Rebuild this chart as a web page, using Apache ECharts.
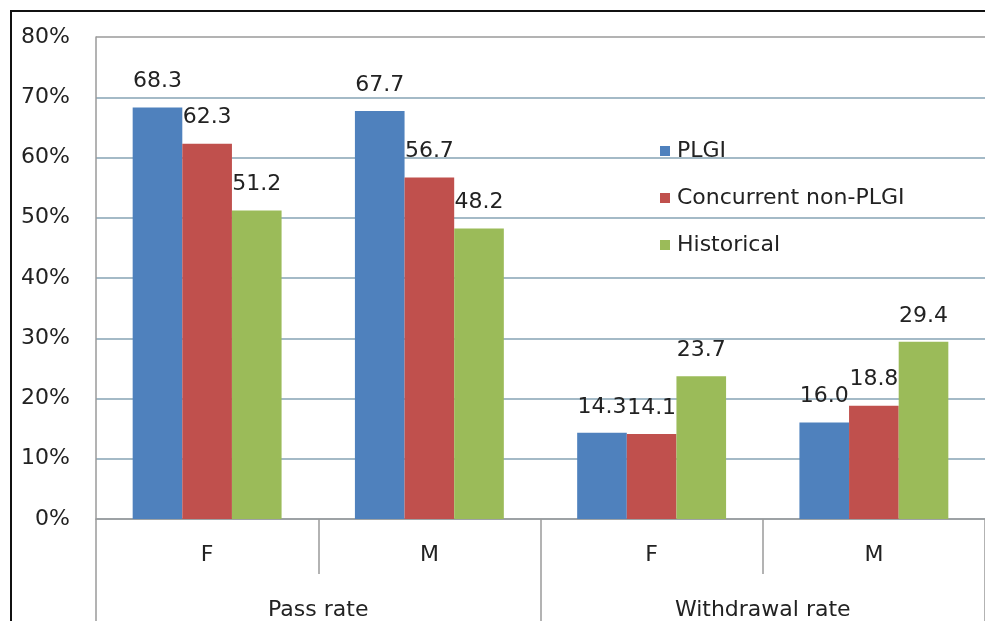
<!DOCTYPE html>
<html>
<head>
<meta charset="utf-8">
<script src="https://cdn.jsdelivr.net/npm/echarts@6/dist/echarts.min.js"></script>
<style>
html,body{margin:0;padding:0;background:#fff;overflow:hidden;}
#wrap{position:relative;width:985px;height:621px;overflow:hidden;}
#chart{position:absolute;left:0;top:0;width:985px;height:621px;}
#ftop{position:absolute;left:10px;top:10px;width:975px;height:0;border-top:2px solid #111;pointer-events:none;}
#fleft{position:absolute;left:10px;top:10px;width:0;height:611px;border-left:2px solid #111;pointer-events:none;}
</style>
</head>
<body>
<div id="wrap"><div id="chart"></div><div id="ftop"></div><div id="fleft"></div></div>
<script>
const categories = ['F', 'M', 'F', 'M'];
const groups = ['Pass rate', 'Withdrawal rate'];
const seriesNames = ['PLGI', 'Concurrent non-PLGI', 'Historical'];
const plgi = [68.3, 67.7, 14.3, 16.0];
const concurrent = [62.3, 56.7, 14.1, 18.8];
const historical = [51.2, 48.2, 23.7, 29.4];
const yTicks = [0, 10, 20, 30, 40, 50, 60, 70, 80];

const colors = ['#4F81BD', '#C0504D', '#9BBB59'];
const FONT = 'DejaVu Sans';
const TXT = '#222';
const GRID_BLUE = '#86a3b5';
const AXIS_GRAY = '#9a9a9a';

const chart = echarts.init(document.getElementById('chart'));
function bar(name, data, color) {
  return {
    name: name,
    type: 'bar',
    data: data,
    xAxisIndex: 0,
    barGap: '0%',
    barCategoryGap: '33%',
    itemStyle: { color: color },
    label: {
      show: true,
      position: 'top',
      distance: 15,
      fontFamily: FONT,
      fontSize: 22,
      color: TXT,
      formatter: p => Number(p.value).toFixed(1)
    }
  };
}
const splitColors = yTicks.map((t, i) => i === yTicks.length - 1 ? AXIS_GRAY : GRID_BLUE);
chart.setOption({
  animation: false,
  color: colors,
  grid: { left: 96, right: -5, top: 37, bottom: 102, containLabel: false },
  legend: {
    orient: 'vertical',
    left: 655,
    top: 135,
    itemWidth: 10,
    itemHeight: 10,
    itemGap: 25,
    icon: 'rect',
    data: seriesNames,
    textStyle: { fontFamily: FONT, fontSize: 22, color: TXT, lineHeight: 22, padding: [0, 0, 0, 2] }
  },
  xAxis: [{
    type: 'category',
    data: categories,
    position: 'bottom',
    axisLine: { show: true, lineStyle: { color: AXIS_GRAY, width: 1.5 } },
    axisTick: { show: true, length: 55, lineStyle: { color: AXIS_GRAY, width: 1.5 } },
    axisLabel: { margin: 25, fontFamily: FONT, fontSize: 22, color: TXT },
    splitLine: { show: false }
  }, {
    type: 'category',
    data: groups,
    position: 'bottom',
    axisLine: { show: false },
    axisTick: { show: true, length: 130, lineStyle: { color: AXIS_GRAY, width: 1.5 } },
    axisLabel: { margin: 80, fontFamily: FONT, fontSize: 22, color: TXT },
    splitLine: { show: false }
  }],
  yAxis: {
    type: 'value',
    min: yTicks[0],
    max: yTicks[yTicks.length - 1],
    interval: yTicks[1] - yTicks[0],
    axisLine: { show: true, lineStyle: { color: AXIS_GRAY, width: 1.5 } },
    axisTick: { show: false },
    axisLabel: { formatter: '{value}%', margin: 26, fontFamily: FONT, fontSize: 22, color: TXT },
    splitLine: { lineStyle: { color: splitColors, width: 1.5 } }
  },
  series: [
    bar(seriesNames[0], plgi, colors[0]),
    bar(seriesNames[1], concurrent, colors[1]),
    bar(seriesNames[2], historical, colors[2])
  ]
});
</script>
</body>
</html>
